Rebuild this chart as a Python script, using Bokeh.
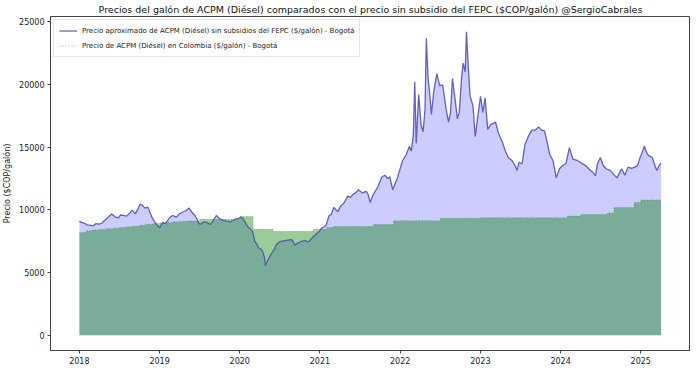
from bokeh.plotting import figure
from bokeh.models import Range1d, FixedTicker, BasicTickFormatter, Legend, LegendItem
from bokeh.embed import file_html
from bokeh.resources import INLINE

# Precio aproximado sin subsidios (año decimal, $/galón)
anio_aprox = [
    2018.000, 2018.024, 2018.061, 2018.098, 2018.134, 2018.171, 2018.208, 2018.244, 2018.281, 2018.317,
    2018.366, 2018.403, 2018.427, 2018.452, 2018.488, 2018.513, 2018.549, 2018.586, 2018.623, 2018.659,
    2018.696, 2018.733, 2018.757, 2018.781, 2018.818, 2018.855, 2018.879, 2018.904, 2018.940, 2018.965,
    2019.001, 2019.038, 2019.074, 2019.123, 2019.160, 2019.209, 2019.245, 2019.282, 2019.331, 2019.368,
    2019.404, 2019.441, 2019.465, 2019.490, 2019.514, 2019.551, 2019.587, 2019.636, 2019.673, 2019.709,
    2019.746, 2019.795, 2019.832, 2019.880, 2019.917, 2019.954, 2019.990, 2020.015, 2020.039, 2020.064,
    2020.100, 2020.137, 2020.161, 2020.186, 2020.210, 2020.234, 2020.259, 2020.283, 2020.308, 2020.320,
    2020.344, 2020.369, 2020.393, 2020.430, 2020.454, 2020.491, 2020.527, 2020.564, 2020.613, 2020.650,
    2020.686, 2020.723, 2020.772, 2020.808, 2020.857, 2020.894, 2020.918, 2020.955, 2020.991, 2021.016,
    2021.053, 2021.077, 2021.114, 2021.138, 2021.175, 2021.199, 2021.223, 2021.260, 2021.297, 2021.346,
    2021.382, 2021.407, 2021.443, 2021.480, 2021.529, 2021.578, 2021.602, 2021.626, 2021.663, 2021.700,
    2021.724, 2021.773, 2021.810, 2021.846, 2021.871, 2021.907, 2021.956, 2021.993, 2022.029, 2022.078,
    2022.115, 2022.139, 2022.164, 2022.182, 2022.200, 2022.231, 2022.261, 2022.286, 2022.310, 2022.326,
    2022.347, 2022.371, 2022.389, 2022.420, 2022.457, 2022.493, 2022.530, 2022.573, 2022.603, 2022.628,
    2022.652, 2022.683, 2022.713, 2022.737, 2022.766, 2022.786, 2022.811, 2022.827, 2022.847, 2022.872,
    2022.908, 2022.936, 2022.969, 2023.002, 2023.031, 2023.059, 2023.092, 2023.128, 2023.153, 2023.189,
    2023.226, 2023.275, 2023.311, 2023.348, 2023.397, 2023.433, 2023.458, 2023.482, 2023.519, 2023.556,
    2023.601, 2023.641, 2023.681, 2023.727, 2023.763, 2023.800, 2023.836, 2023.864, 2023.906, 2023.946,
    2023.987, 2024.020, 2024.068, 2024.109, 2024.154, 2024.215, 2024.264, 2024.313, 2024.349, 2024.398,
    2024.435, 2024.459, 2024.496, 2024.532, 2024.569, 2024.618, 2024.654, 2024.703, 2024.761, 2024.801,
    2024.841, 2024.886, 2024.923, 2024.960, 2024.984, 2025.009, 2025.045, 2025.082, 2025.106, 2025.143,
    2025.173, 2025.200, 2025.228, 2025.253,
]
precio_aprox = [
    9100, 9000, 8950, 8800, 8780, 8730, 8900, 8860, 8950, 9170,
    9450, 9676, 9553, 9420, 9370, 9590, 9553, 9500, 9700, 9985,
    9676, 10100, 10447, 10400, 10139, 10216, 9800, 9422, 9037, 8800,
    8575, 9000, 8906, 9370, 9553, 9422, 9676, 9807, 9950, 10139,
    9807, 9553, 9290, 8906, 8860, 9037, 9000, 8830, 9200, 9553,
    9300, 9168, 9100, 9037, 9150, 9290, 9350, 9422, 9300, 9037,
    8652, 8450, 8267, 7496, 7300, 6980, 6900, 6726, 6200, 5570,
    5900, 6210, 6500, 6857, 7200, 7442, 7500, 7550, 7600, 7627,
    7188, 7350, 7496, 7550, 7442, 7700, 7881, 8100, 8267, 8520,
    8652, 8780, 9553, 9600, 10200, 10000, 9860, 10323, 10524, 11094,
    11000, 11217, 11348, 11602, 11348, 11479, 11200, 10577, 11217, 11600,
    11864, 12635, 12758, 12503, 12635, 11602, 12373, 13143, 13914, 14430,
    15069, 14684, 15971, 20208, 15300, 19183, 16740, 16224, 18027, 23674,
    20594, 19052, 17600, 19500, 20850, 19900, 19953, 18027, 16995, 17765,
    20462, 18900, 17256, 17765, 20594, 21700, 20979, 24190, 21617, 19052,
    18282, 15841, 17512, 19052, 17765, 18923, 16400, 16800, 16868, 16995,
    16100, 15400, 14684, 14175, 13914, 13530, 13143, 13790, 13660, 15200,
    15900, 16355, 16350, 16610, 16355, 16300, 15300, 14430, 13914, 12550,
    13275, 13500, 13700, 14946, 14045, 13914, 13700, 13530, 13275, 13020,
    12700, 13660, 14175, 13530, 13275, 13143, 12890, 12550, 13275, 12758,
    13405, 13300, 13405, 13530, 14045, 14430, 15069, 14430, 14300, 14175,
    13600, 13143, 13530, 13714,
]

# Precio mensual de ACPM en Colombia - Bogotá ($/galón), enero 2018 a abril 2025
precio_colombia = [
    8190, 8330, 8400, 8440, 8500, 8540, 8600, 8650, 8700, 8780, 8850, 8906,
    8950, 9000, 9050, 9080, 9114, 9114, 9245, 9245, 9245, 9245, 9245, 9245,
    9476, 9476, 8445, 8445, 8445, 8290, 8290, 8290, 8290, 8290, 8290, 8445,
    8445, 8600, 8675, 8675, 8675, 8675, 8675, 8675, 8830, 8830, 8830, 9137,
    9137, 9137, 9137, 9137, 9137, 9137, 9322, 9322, 9322, 9322, 9322, 9322,
    9370, 9370, 9370, 9370, 9370, 9370, 9370, 9370, 9370, 9370, 9370, 9370,
    9370, 9500, 9500, 9630, 9630, 9630, 9630, 9753, 10190, 10190, 10190, 10577,
    10785, 10785, 10785, 10785,
]
anio_inicio = 2018
fin_serie = 2025.253

anio_mes = [anio_inicio + i / 12 for i in range(len(precio_colombia))] + [fin_serie]
precio_mes = precio_colombia + [precio_colombia[-1]]

anios_ticks = [2018, 2019, 2020, 2021, 2022, 2023, 2024, 2025]
y_ticks = [0, 5000, 10000, 15000, 20000, 25000]

FONT = "DejaVu Sans"

p = figure(frame_width=640, frame_height=334, output_backend="svg", toolbar_location=None,
           x_range=Range1d(2017.64, 2025.62), y_range=Range1d(-1210, 25410),
           title="Precios del galón de ACPM (Diésel) comparados con el precio sin subsidio del FEPC ($COP/galón) @SergioCabrales")
p.title.text_font = FONT
p.title.text_font_size = "9.5px"
p.title.text_font_style = "normal"
p.title.text_color = "#111111"
p.title.align = "center"
p.title.standoff = 3
p.min_border_top = 0
p.min_border_right = 0
p.min_border_left = 0
p.min_border_bottom = 0

p.xgrid.visible = False
p.ygrid.visible = False
p.background_fill_color = "white"
p.outline_line_color = "#444444"
p.outline_line_width = 1

for ax in (p.xaxis[0], p.yaxis[0]):
    ax.axis_line_color = "#444444"
    ax.major_tick_line_color = "#444444"
    ax.major_tick_out = 3
    ax.major_tick_in = 0
    ax.minor_tick_line_color = None
    ax.major_label_text_font = FONT
    ax.major_label_text_font_size = "8px"
    ax.major_label_text_color = "#222222"
    ax.major_label_standoff = 3
    ax.formatter = BasicTickFormatter(use_scientific=False)

p.xaxis.ticker = FixedTicker(ticks=anios_ticks)
p.yaxis.ticker = FixedTicker(ticks=y_ticks)
p.yaxis.axis_label = "Precio ($COP/galón)"
p.yaxis.axis_label_text_font = FONT
p.yaxis.axis_label_text_font_size = "8px"
p.yaxis.axis_label_text_font_style = "normal"
p.yaxis.axis_label_text_color = "#222222"
p.yaxis.axis_label_standoff = 4

p.varea(x=anio_aprox, y1=0, y2=precio_aprox, fill_color="blue", fill_alpha=0.2)
p.varea_step(x=anio_mes, y1=0, y2=precio_mes, step_mode="after", fill_color="green", fill_alpha=0.4)
r_aprox = p.line(anio_aprox, precio_aprox, line_color="#4a4ab0", line_width=1.3, line_alpha=0.85)
r_col = p.step(anio_mes, precio_mes, mode="after", line_color="green", line_alpha=0.45,
               line_width=1, line_dash="1 2")

legend = Legend(items=[
    LegendItem(label="Precio aproximado de ACPM (Diésel) sin subsidios del FEPC ($/galón) - Bogotá", renderers=[r_aprox]),
    LegendItem(label="Precio de ACPM (Diésel) en Colombia ($/galón) - Bogotá", renderers=[r_col]),
], location="top_left")
legend.label_text_font = FONT
legend.label_text_font_size = "7px"
legend.label_text_color = "#222222"
legend.label_height = 11
legend.glyph_height = 11
legend.glyph_width = 18
legend.spacing = 4
legend.padding = 5
legend.margin = 3
legend.border_line_color = "#cccccc"
legend.border_line_width = 1
legend.background_fill_alpha = 0.85
p.add_layout(legend)

open("out.html", "w").write(file_html(p, INLINE))
